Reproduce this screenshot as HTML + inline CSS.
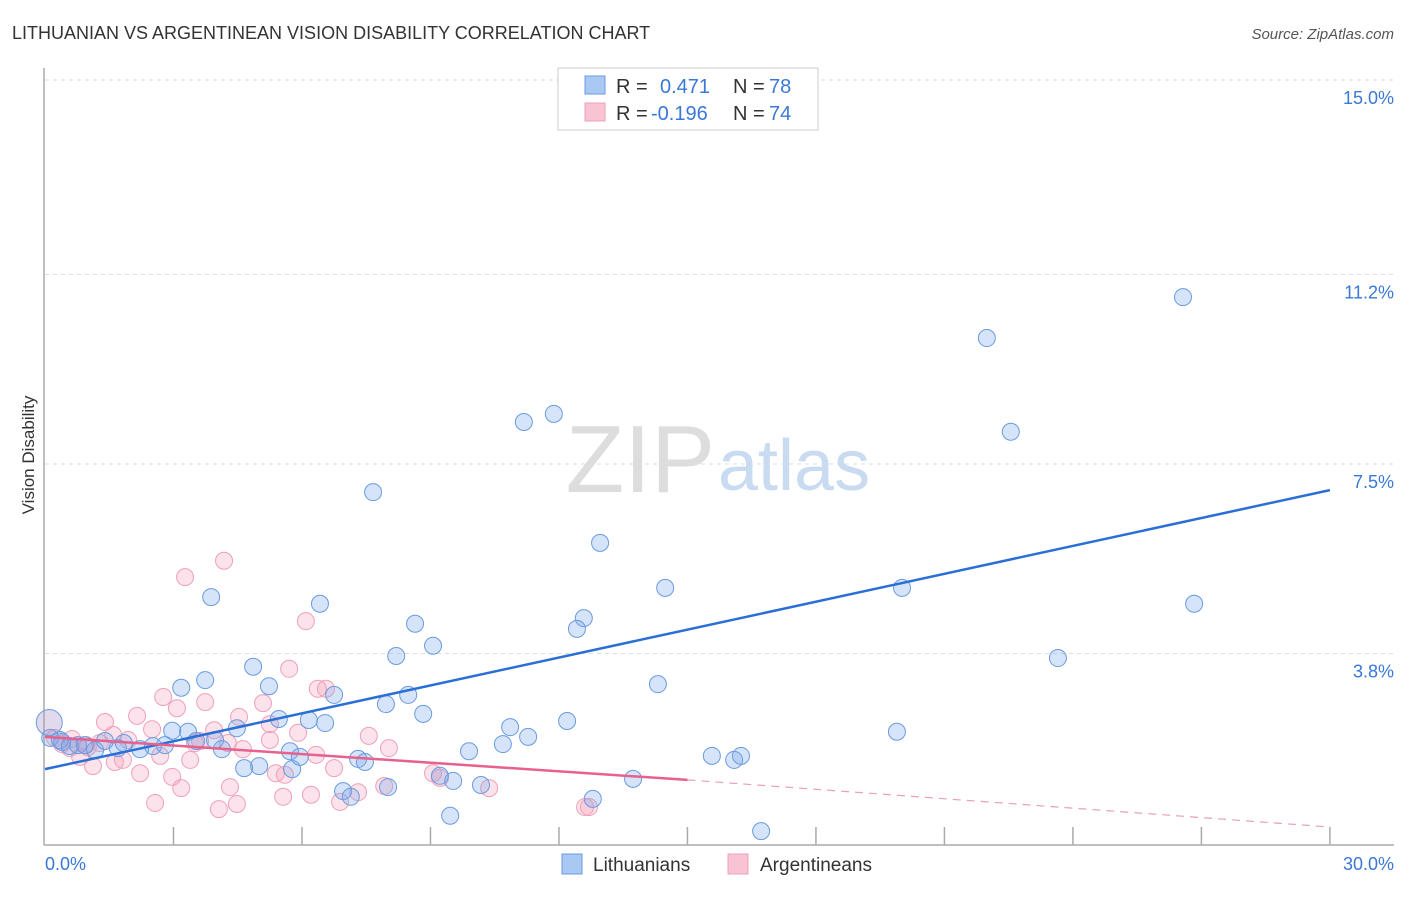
<!DOCTYPE html>
<html><head><meta charset="utf-8"><style>
body{margin:0;background:#fff;font-family:"Liberation Sans",sans-serif}
svg text{font-family:"Liberation Sans",sans-serif}
</style></head><body>
<svg id="chart" width="1406" height="892">
<text x="12" y="39" font-size="18" fill="#333">LITHUANIAN VS ARGENTINEAN VISION DISABILITY CORRELATION CHART</text>
<text x="1394" y="39" font-size="15" fill="#555" font-style="italic" text-anchor="end">Source: ZipAtlas.com</text>
<text x="34" y="455" font-size="17" fill="#333" transform="rotate(-90 34 455)" text-anchor="middle">Vision Disability</text>
<g id="grid"></g>
<text x="715" y="492" font-size="96" fill="#ddd" text-anchor="end" font-family="Liberation Serif">ZIP</text>
<text x="718" y="490" font-size="72" fill="#c8dbf0">atlas</text>
<g id="marks"></g>
<g>
<rect x="558" y="68" width="260" height="62" fill="#fff" stroke="#ccc"/>
<rect x="585" y="76" width="20" height="18" fill="#aac8f4" stroke="#6a9be0"/>
<text x="616" y="93" font-size="20" fill="#333">R =</text>
<text x="660" y="93" font-size="20" fill="#3a78d8">0.471</text>
<text x="733" y="93" font-size="20" fill="#333">N =</text>
<text x="769" y="93" font-size="20" fill="#3a78d8">78</text>
<rect x="585" y="103" width="20" height="18" fill="#f8c4d4" stroke="#f0a0b8"/>
<text x="616" y="120" font-size="20" fill="#333">R =</text>
<text x="651" y="120" font-size="20" fill="#3a78d8">-0.196</text>
<text x="733" y="120" font-size="20" fill="#333">N =</text>
<text x="769" y="120" font-size="20" fill="#3a78d8">74</text>
</g>
<g>
<rect x="562" y="854" width="20" height="20" fill="#aac8f4" stroke="#6a9be0"/>
<text x="593" y="871" font-size="19" fill="#333">Lithuanians</text>
<rect x="728" y="854" width="20" height="20" fill="#f8c4d4" stroke="#f0a0b8"/>
<text x="760" y="871" font-size="19" fill="#333">Argentineans</text>
</g>
</svg>
<script>
const yTicks=[3.8,7.5,11.2,15.0];
const xTickLabels=["0.0%","30.0%"];
const bluePx=[[1183,297],[987,338],[1011,432],[524,422],[554,414],[373,492],[600,543],[665,588],[902,588],[1194,604],[211,597],[320,604],[584,618],[577,629],[415,624],[433,646],[396,656],[1058,658],[253,667],[205,680],[181,688],[269,686],[334,695],[658,684],[408,695],[386,704],[423,714],[279,719],[309,720],[325,723],[237,728],[567,721],[510,727],[528,737],[897,732],[503,744],[469,751],[222,749],[188,732],[172,731],[196,741],[153,746],[140,749],[118,748],[95,750],[78,745],[62,742],[50,738],[105,741],[124,743],[290,751],[300,757],[259,766],[244,768],[292,769],[358,759],[365,762],[712,756],[741,756],[734,760],[633,779],[453,781],[440,776],[481,785],[388,787],[343,791],[351,797],[593,799],[450,816],[761,831],[60,740],[85,745],[70,746],[215,740],[165,745]];
const pinkPx=[[224,561],[185,577],[306,621],[289,669],[318,689],[326,689],[163,697],[205,702],[177,708],[263,703],[137,716],[239,717],[105,722],[214,730],[152,729],[270,724],[298,733],[369,736],[389,748],[243,749],[195,743],[128,740],[113,735],[100,743],[86,745],[72,739],[62,744],[55,738],[160,756],[190,760],[123,760],[115,762],[93,766],[80,757],[140,773],[172,777],[316,755],[334,768],[276,773],[285,775],[433,773],[440,778],[489,788],[230,787],[181,788],[155,803],[219,809],[237,804],[283,797],[311,795],[340,802],[358,792],[384,786],[585,807],[589,807],[200,741],[70,748],[88,747],[228,743],[270,740]];
const blueX=bluePx.map(p=>+((p[0]-45)/42.83).toFixed(2));
const blueY=bluePx.map(p=>+((848-p[1])/51.2).toFixed(2));
const pinkX=pinkPx.map(p=>+((p[0]-45)/42.83).toFixed(2));
const pinkY=pinkPx.map(p=>+((848-p[1])/51.2).toFixed(2));
const blueTrend=[[0,1.54],[30,6.99]];
const pinkTrend=[[0,2.17],[15,1.33],[30,0.41]];
const sx=v=>45+v*42.83, sy=v=>848-v*51.2;
const NS="http://www.w3.org/2000/svg";
function mk(t,a,parent){const e=document.createElementNS(NS,t);for(const k in a)e.setAttribute(k,a[k]);parent.appendChild(e);return e;}
const grid=document.getElementById('grid'),marks=document.getElementById('marks');
yTicks.forEach(t=>{
 const l=mk('line',{x1:45,x2:1394,y1:sy(t),y2:sy(t),stroke:'#ddd','stroke-dasharray':'4,4'},grid);
 
 
 const tx=mk('text',{x:1394,y:sy(t)+24,'font-size':18,fill:'#3a78d8','text-anchor':'end'},grid);
 tx.textContent=t.toFixed(1)+'%';
 
 
});
mk('line',{x1:44,x2:44,y1:68,y2:845,stroke:'#aaa','stroke-width':1.5},grid);
mk('line',{x1:44,x2:1394,y1:845,y2:845,stroke:'#aaa','stroke-width':1.5},grid);
for(let i=1;i<=10;i++){mk('line',{x1:sx(i*3),x2:sx(i*3),y1:827,y2:845,stroke:'#aaa','stroke-width':1.5},grid);}
const xl0=mk('text',{x:45,y:870,'font-size':18,fill:'#3a78d8'},grid);xl0.textContent=xTickLabels[0];


const xl1=mk('text',{x:1394,y:870,'font-size':18,fill:'#3a78d8','text-anchor':'end'},grid);xl1.textContent=xTickLabels[1];


pinkX.forEach((x,i)=>{const c=mk('circle',{cx:sx(x),cy:sy(pinkY[i]),r:8.5,fill:'rgba(245,160,185,0.3)',stroke:'#f0a0b8','stroke-width':1},marks);
 
 });
blueX.forEach((x,i)=>{const c=mk('circle',{cx:sx(x),cy:sy(blueY[i]),r:8.5,fill:'rgba(120,165,235,0.3)',stroke:'#6a9be0','stroke-width':1},marks);
 
 });
const big=mk('circle',{cx:sx(0.1),cy:sy(2.45),r:13,fill:'rgba(170,150,200,0.35)',stroke:'#6a9be0'},marks);


const bl=mk('line',{x1:sx(blueTrend[0][0]),y1:sy(blueTrend[0][1]),x2:sx(blueTrend[1][0]),y2:sy(blueTrend[1][1]),stroke:'#2a6fd6','stroke-width':2.5},marks);


const pl=mk('line',{x1:sx(pinkTrend[0][0]),y1:sy(pinkTrend[0][1]),x2:sx(pinkTrend[1][0]),y2:sy(pinkTrend[1][1]),stroke:'#e8608c','stroke-width':2.5},marks);


const pd=mk('line',{x1:sx(pinkTrend[1][0]),y1:sy(pinkTrend[1][1]),x2:sx(pinkTrend[2][0]),y2:sy(pinkTrend[2][1]),stroke:'#e8a0b8','stroke-width':1.2,'stroke-dasharray':'8,6'},marks);


</script>
</body></html>
